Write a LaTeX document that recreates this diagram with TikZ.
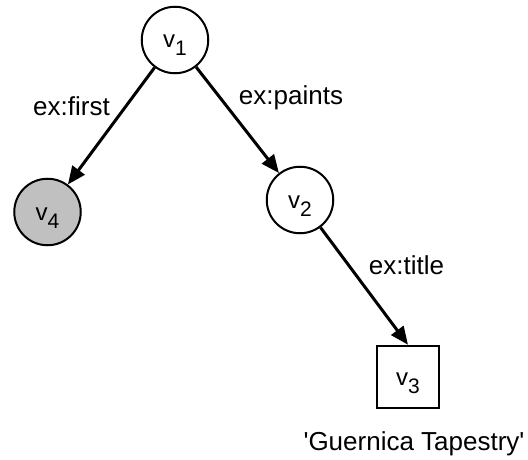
\documentclass[tikz,border=0pt]{standalone}
\usepackage{fontspec}
\setmainfont{Liberation Sans}
\usetikzlibrary{arrows.meta}

% vertex label: letter with a lowered, slightly smaller index
\newcommand{\vlab}[1]{\fontsize{24}{24}\selectfont v\raisebox{-8pt}{\fontsize{21}{21}\selectfont #1}}

\tikzset{
  vnode/.style={circle, draw, line width=2pt, minimum size=66.5pt, inner sep=0pt,
                text height=16pt, text depth=0pt, fill=white},
  blanknode/.style={vnode, fill={rgb,255:red,192;green,192;blue,192}},
  litnode/.style={rectangle, draw, line width=2.5pt, minimum size=62pt, inner sep=0pt,
                  text height=16pt, text depth=0pt, fill=white},
  rel/.style={line width=3pt, -{Triangle[length=18pt,width=15pt]}},
  lbl/.style={font=\fontsize{26}{30}\selectfont, inner sep=0pt, anchor=base}
}

\begin{document}
\begin{tikzpicture}[x=1pt, y=-1pt]
  \useasboundingbox (0,0) rectangle (528,460);

  % graph vertices
  \node[vnode]     (v1) at (175,40)    {\vlab{1}};
  \node[blanknode] (v4) at (47.5,212)  {\vlab{4}};
  \node[vnode]     (v2) at (300,200)   {\vlab{2}};
  \node[litnode]   (v3) at (408,377)   {\vlab{3}};

  % predicates
  \draw[rel] (v1) -- (v4);
  \draw[rel] (v1) -- (v2);
  \draw[rel] (v2) -- (v3.north);

  % edge labels and literal value
  \node[lbl] (lfirst)  at (71.5,116) {ex:first};
  \node[lbl] (lpaints) at (291,104)  {ex:paints};
  \node[lbl] (ltitle)  at (406.5,274) {ex:title};
  \node[lbl] (lvalue)  at (414,450)  {\textquotesingle Guernica Tapestry\textquotesingle};
\end{tikzpicture}
\end{document}
